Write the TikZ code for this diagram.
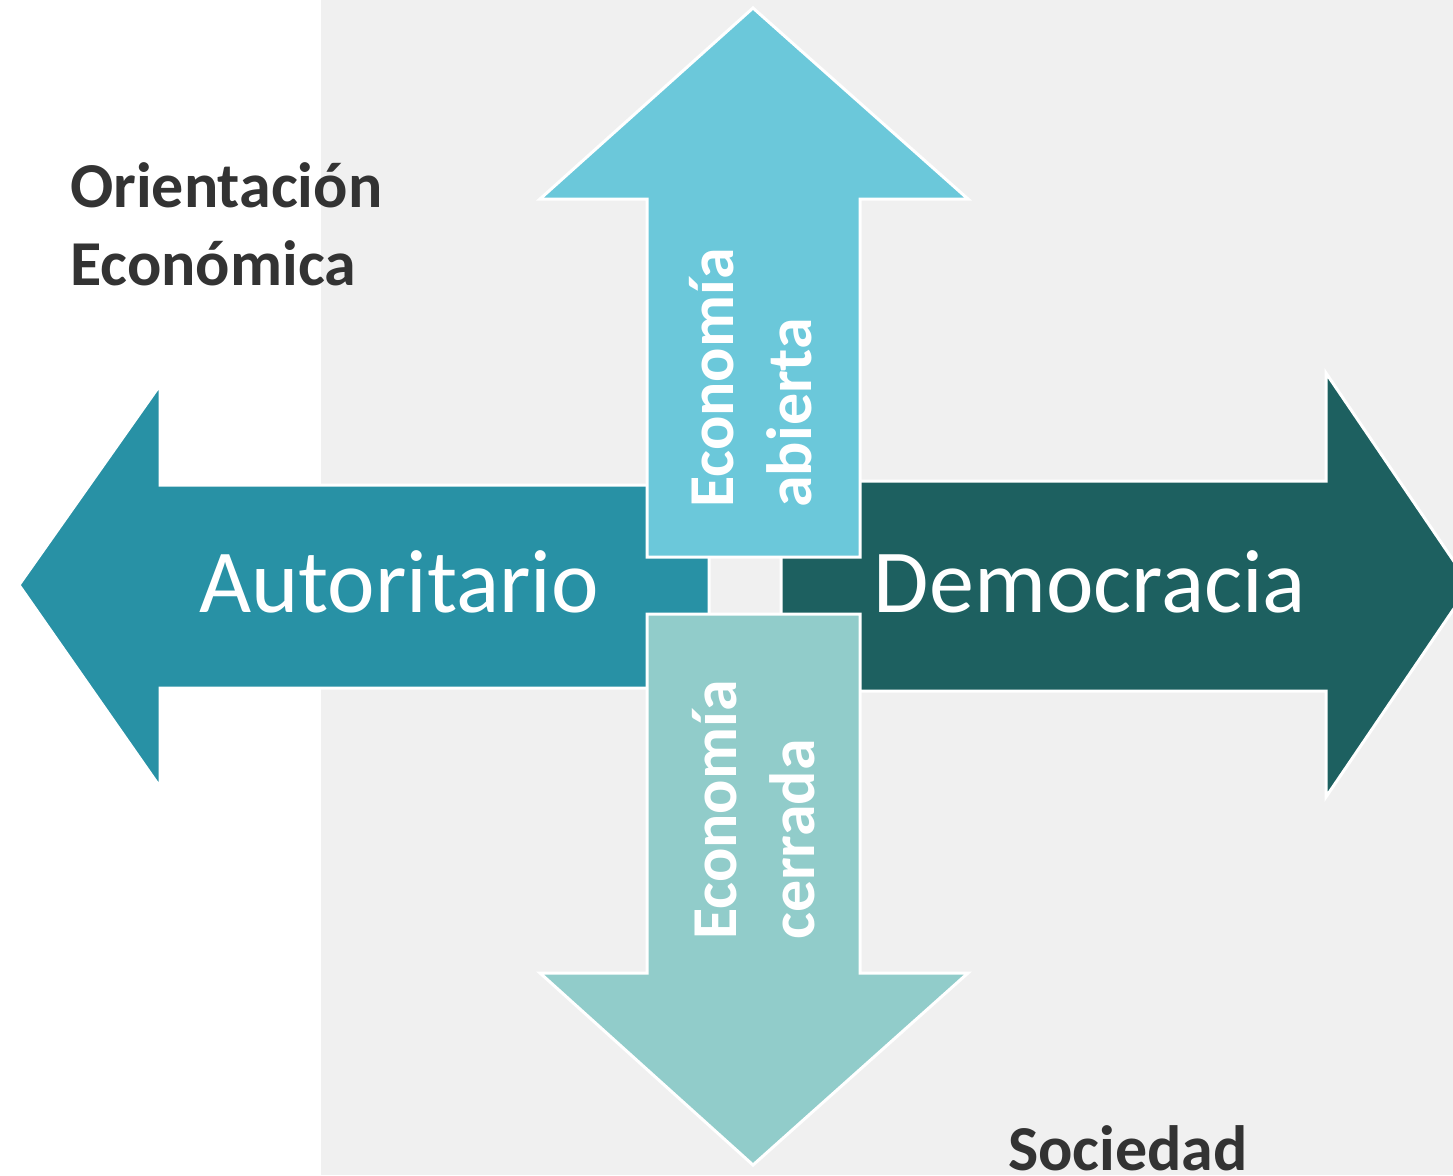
\documentclass[tikz,border=0pt]{standalone}
\usepackage{fontspec}
\setmainfont{Carlito}
\definecolor{bggray}{HTML}{F0F0F0}
\definecolor{arrL}{HTML}{2891A5}
\definecolor{arrR}{HTML}{1D6060}
\definecolor{arrT}{HTML}{6BC8DA}
\definecolor{arrB}{HTML}{91CCCA}
\definecolor{txtdark}{HTML}{333333}
\tikzset{
  arrowshape/.style={draw=white, line width=3pt, line join=miter},
  bigword/.style={text=white, font=\fontsize{90}{100}\selectfont, inner sep=0pt},
  vword/.style={text=white, font=\bfseries\fontsize{64}{78}\selectfont, rotate=90, align=left, inner sep=0pt},
  caption/.style={text=txtdark, font=\bfseries\fontsize{64}{70}\selectfont, inner sep=0pt}
}
\begin{document}
\begin{tikzpicture}[x=1pt,y=-1pt]
\useasboundingbox (0,0) rectangle (1453,1175);
\fill[bggray] (321,0) rectangle (1453,1175);
% left arrow
\path[arrowshape, fill=arrL] (709,485) -- (160,485) -- (160,385) -- (19,585) -- (160,787) -- (160,688) -- (709,688) -- cycle;
% right arrow
\path[arrowshape, fill=arrR] (781,481) -- (1326,481) -- (1326,373) -- (1470,585) -- (1326,797) -- (1326,691) -- (781,691) -- cycle;
% top arrow
\path[arrowshape, fill=arrT] (647,557) -- (647,199) -- (540,199) -- (753,8) -- (968,199) -- (860,199) -- (860,557) -- cycle;
% bottom arrow
\path[arrowshape, fill=arrB] (647,614) -- (647,973) -- (540,973) -- (753,1165) -- (968,973) -- (860,973) -- (860,614) -- cycle;
% labels
\node[bigword, anchor=base] (aut) at (399,612) {Autoritario};
\node[bigword, anchor=base] (dem) at (1090,612) {Democracia};
\node[vword] (eab) at (751,378) {Economía\\abierta};
\node[vword] (ece) at (754,810) {Economía\\cerrada};
\node[caption, anchor=base west] (ori) at (70,207) {Orientación};
\node[caption, anchor=base west] (eco) at (70,285) {Económica};
\node[caption, anchor=base west] (soc) at (1008,1170) {Sociedad};
\end{tikzpicture}
\end{document}
